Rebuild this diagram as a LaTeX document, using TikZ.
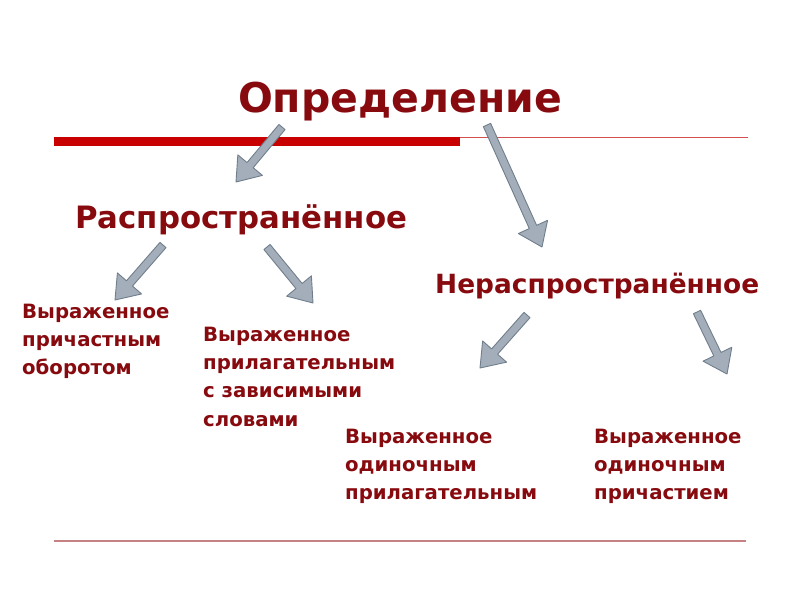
\documentclass[tikz,border=0pt]{standalone}
\usepackage{fontspec}
\setmainfont{DejaVu Sans}
\usetikzlibrary{calc}
\definecolor{txtred}{RGB}{135,10,15}
\definecolor{barred}{RGB}{200,0,0}
\definecolor{thinred}{RGB}{210,80,80}
\definecolor{bottomline}{RGB}{196,130,130}
\definecolor{arrfill}{RGB}{163,174,186}
\definecolor{arredge}{RGB}{112,126,140}
\newcommand{\stacklines}[1]{\vtop{\baselineskip=28.4pt\halign{##\hfil\cr#1\crcr}}}
\newcommand{\blockarrow}[2]{%
  \coordinate (hb) at ($(#2)!22pt!(#1)$);
  \filldraw[arrowstyle] ($(#1)!4pt!90:(#2)$) -- ($(hb)!4pt!90:(#2)$) -- ($(hb)!16pt!90:(#2)$) -- (#2) -- ($(hb)!16pt!-90:(#2)$) -- ($(hb)!4pt!-90:(#2)$) -- ($(#1)!4pt!-90:(#2)$) -- cycle;}
\tikzset{
  arrowstyle/.style={fill=arrfill, draw=arredge, line width=0.9pt, line join=round},
  titletext/.style={inner sep=0pt, text=txtred, font=\bfseries\fontsize{41}{48}\selectfont},
  headtext/.style={inner sep=0pt, text=txtred, font=\bfseries\fontsize{30.8}{36}\selectfont},
  head2text/.style={inner sep=0pt, text=txtred, font=\bfseries\fontsize{26.4}{32}\selectfont},
  leaftext/.style={inner sep=0pt, text=txtred, font=\bfseries\fontsize{19.7}{28}\selectfont, anchor=base west},
}
\begin{document}
\begin{tikzpicture}[x=1pt,y=-1pt]
\fill[white] (0,0) rectangle (800,600);
\useasboundingbox (0,0) rectangle (800,600);
% lines
\coordinate (barL) at (54,141.5);
\coordinate (barR) at (460,141.5);
\coordinate (thinL) at (460,137.5);
\coordinate (thinR) at (748,137.5);
\coordinate (botL) at (54,541);
\coordinate (botR) at (746,541);
\draw[barred, line width=9pt] (barL) -- (barR);
\draw[thinred, line width=1.1pt] (thinL) -- (thinR);
\draw[bottomline, line width=1.2pt] (botL) -- (botR);
% texts
\node[titletext, anchor=base] (title) at (400,112) {Определение};
\node[headtext, anchor=base west] (rasp) at (75,228) {Распространённое};
\node[head2text, anchor=base west] (nerasp) at (435,293) {Нераспространённое};
\node[leaftext] (b1) at (22,318) {\stacklines{Выраженное\cr причастным\cr оборотом}};
\node[leaftext] (b2) at (203,341) {\stacklines{Выраженное\cr прилагательным\cr с зависимыми\cr словами}};
\node[leaftext] (b3) at (345,443) {\stacklines{Выраженное\cr одиночным\cr прилагательным}};
\node[leaftext] (b4) at (594,443) {\stacklines{Выраженное\cr одиночным\cr причастием}};
% arrows
\coordinate (a1s) at (282,127); \coordinate (a1e) at (236,182);
\coordinate (a2s) at (487,125); \coordinate (a2e) at (542,247);
\coordinate (a3s) at (163,245); \coordinate (a3e) at (115,300);
\coordinate (a4s) at (267,247); \coordinate (a4e) at (313,303);
\coordinate (a5s) at (527,315); \coordinate (a5e) at (480,368);
\coordinate (a6s) at (697,312); \coordinate (a6e) at (727,374);
\blockarrow{a1s}{a1e}
\blockarrow{a2s}{a2e}
\blockarrow{a3s}{a3e}
\blockarrow{a4s}{a4e}
\blockarrow{a5s}{a5e}
\blockarrow{a6s}{a6e}
\end{tikzpicture}
\end{document}
